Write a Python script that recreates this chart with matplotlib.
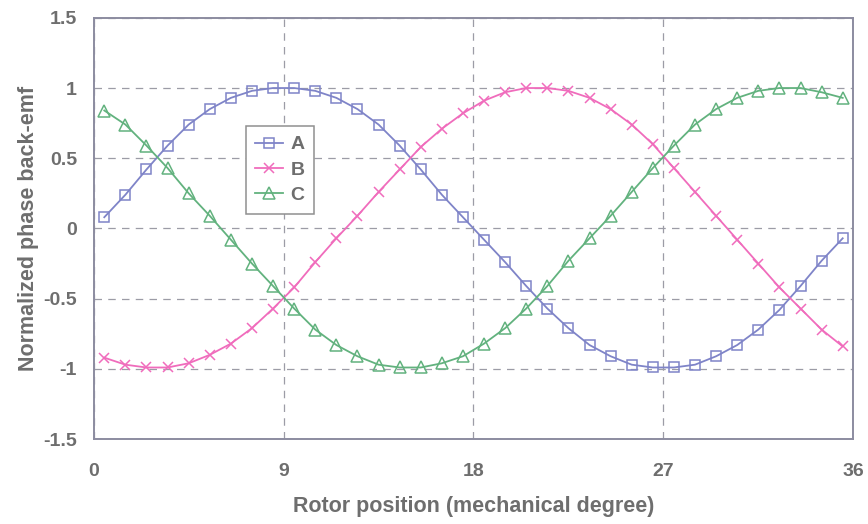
import matplotlib.pyplot as plt

plt.rcParams['font.family'] = ['Liberation Sans', 'DejaVu Sans']

# rotor position (mechanical degree) of each sample
rotor_pos = [0.5, 1.5, 2.5, 3.5, 4.5, 5.5, 6.5, 7.5, 8.5, 9.5, 10.5, 11.5,
             12.5, 13.5, 14.5, 15.5, 16.5, 17.5, 18.5, 19.5, 20.5, 21.5, 22.5, 23.5,
             24.5, 25.5, 26.5, 27.5, 28.5, 29.5, 30.5, 31.5, 32.5, 33.5, 34.5, 35.5]

# normalized back-emf for each phase
emf_a = [0.08, 0.24, 0.42, 0.59, 0.74, 0.85, 0.93, 0.98, 1.00, 1.00, 0.98, 0.93,
         0.85, 0.74, 0.59, 0.42, 0.24, 0.08, -0.08, -0.24, -0.41, -0.57, -0.71, -0.83,
         -0.91, -0.97, -0.99, -0.99, -0.97, -0.91, -0.83, -0.72, -0.58, -0.41, -0.23, -0.07]
emf_b = [-0.92, -0.97, -0.99, -0.99, -0.96, -0.90, -0.82, -0.71, -0.57, -0.42, -0.24, -0.07,
         0.09, 0.26, 0.42, 0.58, 0.71, 0.82, 0.91, 0.97, 1.00, 1.00, 0.98, 0.93,
         0.85, 0.74, 0.60, 0.43, 0.26, 0.09, -0.08, -0.25, -0.42, -0.57, -0.72, -0.84]
emf_c = [0.84, 0.74, 0.59, 0.43, 0.25, 0.09, -0.08, -0.25, -0.41, -0.57, -0.72, -0.83,
         -0.91, -0.97, -0.99, -0.99, -0.96, -0.91, -0.82, -0.71, -0.57, -0.41, -0.23, -0.07,
         0.09, 0.26, 0.43, 0.59, 0.74, 0.85, 0.93, 0.98, 1.00, 1.00, 0.97, 0.93]

x_ticks = [0, 9, 18, 27, 36]
y_ticks = [-1.5, -1, -0.5, 0, 0.5, 1, 1.5]
y_labels = ['-1.5', '-1', '-0.5', '0', '0.5', '1', '1.5']

text_col = '#6e6e6e'
frame_col = '#8c8ca0'

fig = plt.figure(figsize=(8.68, 5.24), dpi=100)
ax = fig.add_axes([0.108, 0.162, 0.875, 0.804])

ax.plot(rotor_pos, emf_a, color='#7f84c8', lw=1.3, marker='s', ms=7,
        mfc='none', mew=1.1, label='A')
ax.plot(rotor_pos, emf_b, color='#f06cbc', lw=1.3, marker='x', ms=7,
        mew=1.1, label='B')
ax.plot(rotor_pos, emf_c, color='#62b27e', lw=1.3, marker='^', ms=8,
        mfc='none', mew=1.1, label='C')

ax.set_xlim(0, 36)
ax.set_ylim(-1.5, 1.5)
ax.set_xticks(x_ticks)
ax.set_yticks(y_ticks)
ax.set_yticklabels(y_labels)
ax.grid(True, color='#9c9ca6', ls=(0, (6, 5)), lw=0.9)
ax.tick_params(length=0, labelsize=14, colors=text_col)
ax.tick_params(axis='y', pad=12)
ax.tick_params(axis='x', pad=17)
for lab in ax.get_xticklabels() + ax.get_yticklabels():
    lab.set_fontweight('bold')
for sp in ax.spines.values():
    sp.set_color(frame_col)
    sp.set_linewidth(1.4)

ax.set_xlabel('Rotor position (mechanical degree)', fontsize=15.5,
              fontweight='bold', color=text_col, labelpad=12)
ax.set_ylabel('Normalized phase back-emf', fontsize=15.5,
              fontweight='bold', color=text_col, labelpad=3)

leg = ax.legend(loc='upper left', bbox_to_anchor=(0.2, 0.743), borderaxespad=0,
                fancybox=False, framealpha=1, edgecolor='#909090', fontsize=14,
                handlelength=1.4, handletextpad=0.4, borderpad=0.5,
                labelspacing=0.4)
leg.get_frame().set_linewidth(1.1)
for t in leg.get_texts():
    t.set_color(text_col)
    t.set_fontweight('bold')

fig.savefig('out.png', dpi=100)
